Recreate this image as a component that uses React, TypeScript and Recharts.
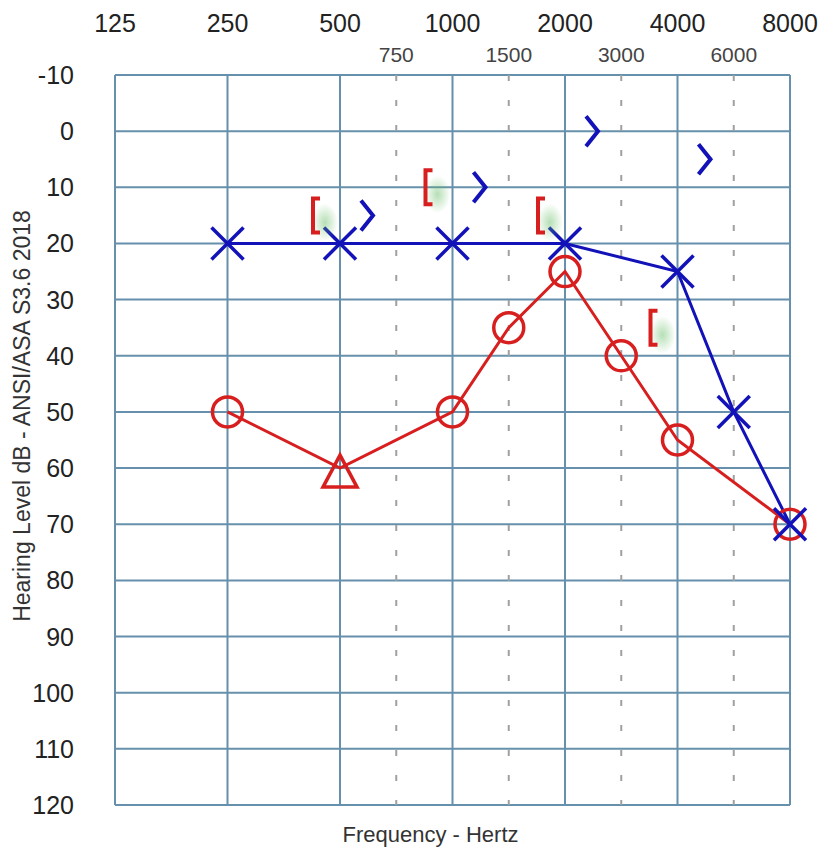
import React from "react";
import {
  CartesianGrid,
  ComposedChart,
  Line,
  ReferenceLine,
  Scatter,
  XAxis,
  YAxis
} from "recharts";

// octave frequencies along the top, half-octave ones underneath
const octaveFreqs = [125, 250, 500, 1000, 2000, 4000, 8000];
const halfFreqs = [750, 1500, 3000, 6000];
const dbTicks = [-10, 0, 10, 20, 30, 40, 50, 60, 70, 80, 90, 100, 110, 120];

// right ear, air conduction (red)
const rightFreqs = [250, 500, 1000, 1500, 2000, 3000, 4000, 8000];
const rightAC = [50, 60, 50, 35, 25, 40, 55, 70];
const rightSymbols = ["circle", "triangle", "circle", "circle", "circle", "circle", "circle", "circle"];

// left ear, air conduction (blue)
const leftFreqs = [250, 500, 1000, 2000, 4000, 6000, 8000];
const leftAC = [20, 20, 20, 20, 25, 50, 70];

// bone conduction
const rightBCFreqs = [500, 1000, 2000, 4000];
const rightBC = [15, 10, 15, 35];
const leftBCFreqs = [500, 1000, 2000, 4000];
const leftBC = [15, 10, 0, 5];

const RED = "#d81f1f";
const BLUE = "#1212b8";
const GRID = "#6690ab";
const FONT = "'Liberation Sans', Arial, sans-serif";

// audiogram spacing: one unit per octave, half-octave freqs sit midway
const octavePos = (f: number) => Math.round(Math.log2(f / 125) * 2) / 2;

const allFreqs = [...octaveFreqs, ...halfFreqs];
const freqAtPos = (p: number) => allFreqs.find((f) => octavePos(f) === p);

const toPoints = (freqs: number[], dbs: number[], symbols?: string[]) =>
  freqs.map((f, i) => ({ pos: octavePos(f), db: dbs[i], symbol: symbols ? symbols[i] : "" }));

const rightData = toPoints(rightFreqs, rightAC, rightSymbols);
const leftData = toPoints(leftFreqs, leftAC);
const rightBCData = toPoints(rightBCFreqs, rightBC);
const leftBCData = toPoints(leftBCFreqs, leftBC);

const RightDot = (props: any) => {
  const { cx, cy, payload, index } = props;
  if (cx == null || cy == null) return <g key={index} />;
  if (payload.symbol === "triangle") {
    return (
      <polygon
        key={index}
        points={`${cx},${cy - 13} ${cx - 17},${cy + 19} ${cx + 17},${cy + 19}`}
        fill="none"
        stroke={RED}
        strokeWidth={3.5}
      />
    );
  }
  return <circle key={index} cx={cx} cy={cy} r={15} fill="none" stroke={RED} strokeWidth={3.5} />;
};

const LeftDot = (props: any) => {
  const { cx, cy, index } = props;
  if (cx == null || cy == null) return <g key={index} />;
  const s = 16;
  return (
    <g key={index} stroke={BLUE} strokeWidth={3.5}>
      <line x1={cx - s} y1={cy - s} x2={cx + s} y2={cy + s} />
      <line x1={cx - s} y1={cy + s} x2={cx + s} y2={cy - s} />
    </g>
  );
};

const Bracket = (props: any) => {
  const { cx, cy } = props;
  const x = cx - 24;
  return (
    <g>
      <ellipse cx={x + 9} cy={cy + 7} rx={13} ry={19} fill="url(#glow)" />
      <path
        d={`M${x + 4},${cy - 17} L${x - 3},${cy - 17} L${x - 3},${cy + 17} L${x + 4},${cy + 17}`}
        fill="none"
        stroke={RED}
        strokeWidth={4}
      />
    </g>
  );
};

const Chevron = (props: any) => {
  const { cx, cy } = props;
  const x = cx + 27;
  return (
    <path
      d={`M${x - 6},${cy - 15} L${x + 6},${cy} L${x - 6},${cy + 15}`}
      fill="none"
      stroke={BLUE}
      strokeWidth={4}
    />
  );
};

const FreqTick = (props: any) => {
  const { x, payload } = props;
  const isOctave = Number.isInteger(payload.value);
  return (
    <text
      x={x}
      y={isOctave ? 32 : 62}
      textAnchor="middle"
      fontSize={isOctave ? 25 : 21}
      fill={isOctave ? "#222" : "#444"}
      fontFamily={FONT}
    >
      {freqAtPos(payload.value)}
    </text>
  );
};

const DbTick = (props: any) => {
  const { y, payload } = props;
  return (
    <text x={74} y={y + 9} textAnchor="end" fontSize={25} fill="#222" fontFamily={FONT}>
      {payload.value}
    </text>
  );
};

const YTitle = () => (
  <text
    transform="translate(30,416) rotate(-90)"
    textAnchor="middle"
    fontSize={23}
    fill="#333"
    fontFamily={FONT}
  >
    Hearing Level dB - ANSI/ASA S3.6 2018
  </text>
);

export default function App() {
  return (
    <div style={{ position: "absolute", left: 0, top: 0, width: 818, height: 847, background: "#fff" }}>
      <ComposedChart width={818} height={847} margin={{ top: 0, right: 28, bottom: 0, left: 0 }}>
        <defs>
          <radialGradient id="glow">
            <stop offset="0%" stopColor="#5cb85c" stopOpacity={0.45} />
            <stop offset="100%" stopColor="#5cb85c" stopOpacity={0} />
          </radialGradient>
        </defs>
        <XAxis
          xAxisId="main"
          dataKey="pos"
          type="number"
          orientation="top"
          domain={[0, 6]}
          ticks={allFreqs.map(octavePos)}
          interval={0}
          height={75}
          axisLine={false}
          tickLine={false}
          tick={<FreqTick />}
        />
        <XAxis
          xAxisId="bottom"
          type="number"
          orientation="bottom"
          domain={[0, 6]}
          ticks={[]}
          height={42}
          axisLine={false}
          tickLine={false}
          tick={false}
          label={{
            value: "Frequency - Hertz",
            position: "insideBottom",
            offset: 5,
            dx: -22,
            fontSize: 22,
            fill: "#333",
            fontFamily: FONT
          }}
        />
        <YAxis
          dataKey="db"
          type="number"
          reversed
          domain={[-10, 120]}
          ticks={dbTicks}
          interval={0}
          width={115}
          axisLine={false}
          tickLine={false}
          tick={<DbTick />}
          label={<YTitle />}
        />
        <CartesianGrid xAxisId="main" vertical={false} stroke={GRID} strokeWidth={2} fill="#fff" />
        {halfFreqs.map((f) => (
          <ReferenceLine
            key={f}
            xAxisId="main"
            x={octavePos(f)}
            stroke="#a0a0a0"
            strokeWidth={2}
            strokeDasharray="6 19"
          />
        ))}
        {octaveFreqs.map((f) => (
          <ReferenceLine key={f} xAxisId="main" x={octavePos(f)} stroke={GRID} strokeWidth={2} />
        ))}
        <Line
          xAxisId="main"
          data={rightData}
          dataKey="db"
          stroke={RED}
          strokeWidth={3}
          dot={<RightDot />}
          activeDot={false}
          isAnimationActive={false}
        />
        <Line
          xAxisId="main"
          data={leftData}
          dataKey="db"
          stroke={BLUE}
          strokeWidth={3}
          dot={<LeftDot />}
          activeDot={false}
          isAnimationActive={false}
        />
        <Scatter xAxisId="main" data={rightBCData} dataKey="db" shape={<Bracket />} isAnimationActive={false} />
        <Scatter xAxisId="main" data={leftBCData} dataKey="db" shape={<Chevron />} isAnimationActive={false} />
      </ComposedChart>
    </div>
  );
}
